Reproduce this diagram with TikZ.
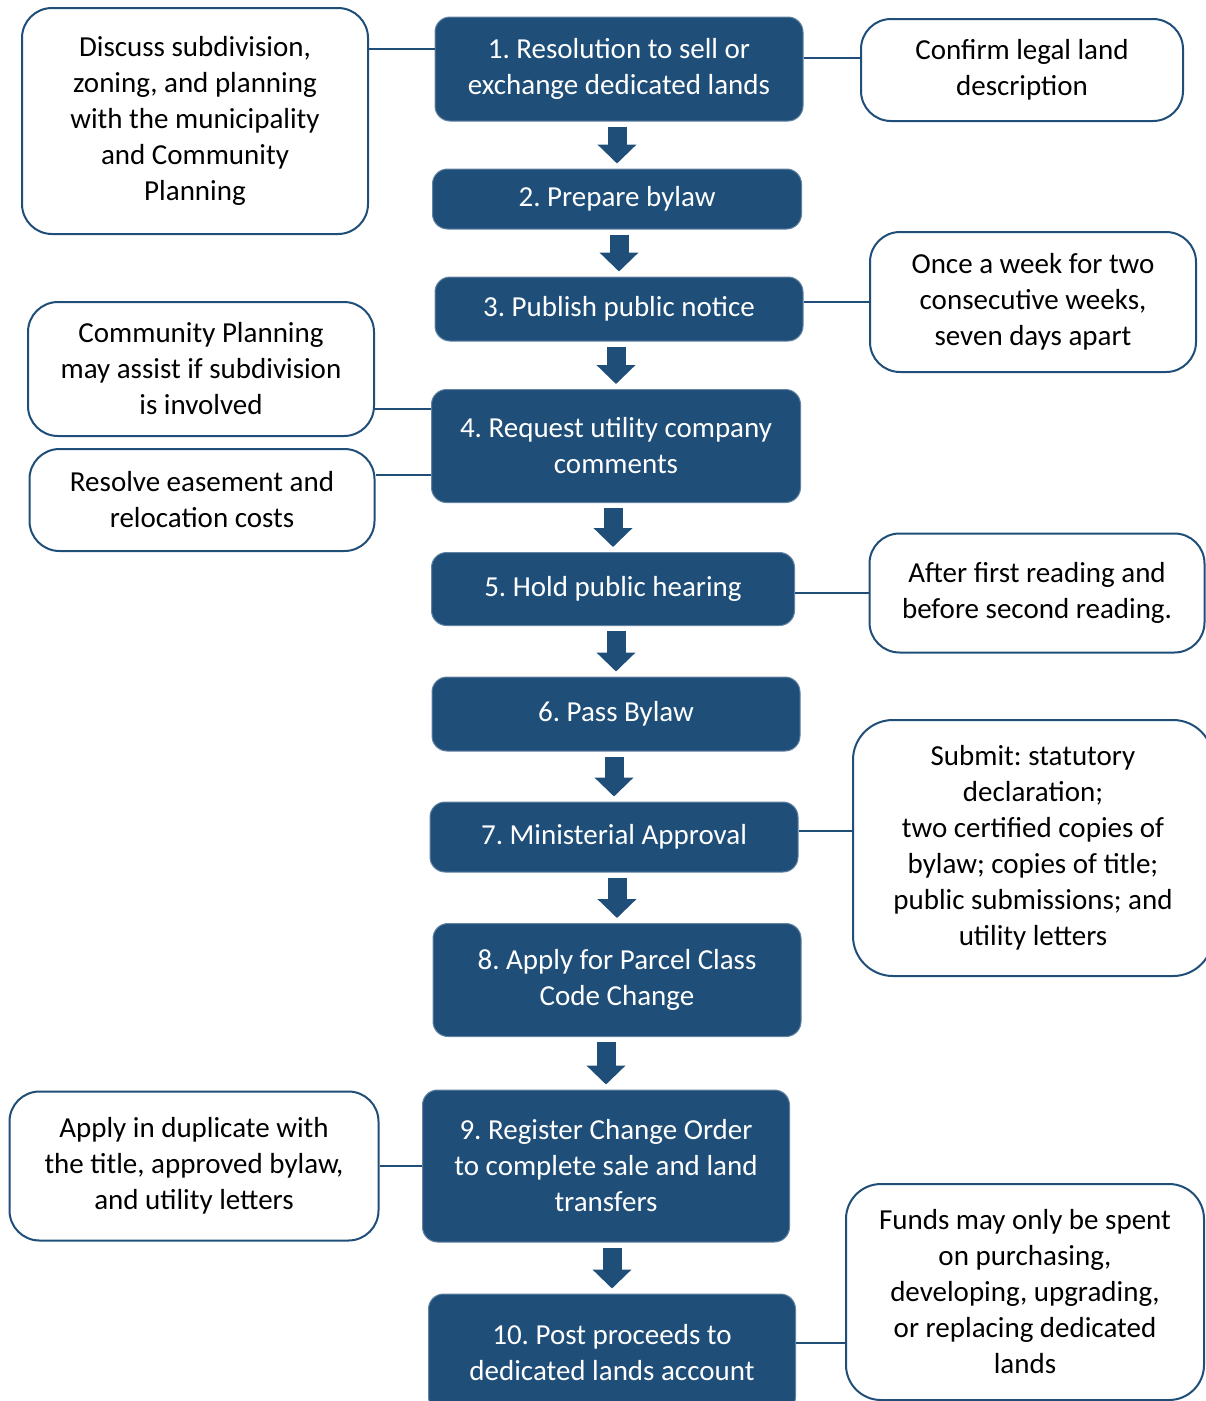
\documentclass[tikz,border=0pt]{standalone}
\usepackage{fontspec}
\setmainfont{Carlito}
\frenchspacing
\usetikzlibrary{arrows.meta}
\definecolor{navy}{HTML}{1F4E79}
\tikzstyle{sbox} = [rectangle, rounded corners=15pt, fill=navy, draw=navy!70!white, line width=1pt, text=white, align=center, inner sep=0pt, font=\fontsize{29}{36}\selectfont]
\tikzstyle{nbox} = [rectangle, rounded corners=30pt, fill=white, draw=navy, line width=2pt, align=center, inner sep=0pt, font=\fontsize{29}{36}\selectfont]
\tikzstyle{link} = [draw=navy, line width=2pt]
\tikzstyle{flow} = [draw=navy, line width=19pt, -{Triangle[width=38pt,length=19pt]}, shorten <=5pt, shorten >=5pt]

\begin{document}
\begin{tikzpicture}[x=1pt, y=-1pt]
			\useasboundingbox (0,0) rectangle (1206,1401);
			\clip (0,0) rectangle (1206,1401);

			% steps
			\node [sbox, minimum width=368pt, minimum height=104pt] (s1) at (619, 69) {1. Resolution to sell or\\exchange dedicated lands};
			\node [sbox, minimum width=369pt, minimum height=60pt] (s2) at (617, 199) {2. Prepare bylaw};
			\node [sbox, minimum width=368pt, minimum height=64pt] (s3) at (619, 309) {3. Publish public notice};
			\node [sbox, minimum width=369pt, minimum height=113pt] (s4) at (616, 446) {4. Request utility company\\comments};
			\node [sbox, minimum width=363pt, minimum height=73pt] (s5) at (613, 589) {5. Hold public hearing};
			\node [sbox, minimum width=368pt, minimum height=74pt] (s6) at (616, 714) {6. Pass Bylaw};
			\node [sbox, minimum width=368pt, minimum height=70pt] (s7) at (614, 837) {7. Ministerial Approval};
			\node [sbox, minimum width=368pt, minimum height=113pt] (s8) at (617, 980) {8. Apply for Parcel Class\\Code Change};
			\node [sbox, minimum width=367pt, minimum height=152pt] (s9) at (606, 1166) {9. Register Change Order\\to complete sale and land\\transfers};
			\node [sbox, minimum width=367pt, minimum height=118pt] (s10) at (612, 1353) {10. Post proceeds to\\dedicated lands account};

			% notes
			\node [nbox, minimum width=346pt, minimum height=226pt] (L1) at (195, 121) {Discuss subdivision,\\zoning, and planning\\with the municipality\\and Community\\Planning};
			\node [nbox, minimum width=322pt, minimum height=102pt] (R1) at (1022, 70) {Confirm legal land\\description};
			\node [nbox, minimum width=326pt, minimum height=140pt] (R3) at (1033, 302) {Once a week for two\\consecutive weeks,\\seven days apart};
			\node [nbox, minimum width=346pt, minimum height=134pt] (L4a) at (201, 369) {Community Planning\\may assist if subdivision\\is involved};
			\node [nbox, minimum width=345pt, minimum height=102pt] (L4b) at (202, 500) {Resolve easement and\\relocation costs};
			\node [nbox, minimum width=335pt, minimum height=119pt] (R5) at (1037, 593) {After first reading and\\before second reading.};
			\node [nbox, rounded corners=40pt, minimum width=360pt, minimum height=256pt] (R7) at (1033, 848) {Submit: statutory\\declaration;\\two certified copies of\\bylaw; copies of title;\\public submissions; and\\utility letters};
			\node [nbox, minimum width=369pt, minimum height=149pt] (L9) at (194, 1166) {Apply in duplicate with\\the title, approved bylaw,\\and utility letters};
			\node [nbox, rounded corners=35pt, minimum width=358pt, minimum height=216pt] (R10) at (1025, 1292) {Funds may only be spent\\on purchasing,\\developing, upgrading,\\or replacing dedicated\\lands};

			% links
			\coordinate (j1) at ([yshift=20pt]s1.west);
			\coordinate (j2) at ([yshift=11pt]s1.east);
			\coordinate (j4) at ([yshift=37pt]s4.west);
			\coordinate (j5) at ([yshift=-29pt]s4.west);
			\coordinate (j7) at ([yshift=6pt]s7.east);
			\coordinate (j10) at ([yshift=10pt]s10.east);
			\path [link] (j1) -- (j1 -| L1.east);
			\path [link] (j2) -- (j2 -| R1.west);
			\path [link] (R3.west) -- (R3.west -| s3.east);
			\path [link] (j4) -- (j4 -| L4a.east);
			\path [link] (j5) -- (j5 -| L4b.east);
			\path [link] (R5.west) -- (R5.west -| s5.east);
			\path [link] (j7) -- (j7 -| R7.west);
			\path [link] (L9.east) -- (L9.east -| s9.west);
			\path [link] (j10) -- (j10 -| R10.west);

			% flow
			\path [flow] (s1.south -| s2.north) -- (s2.north);
			\path [flow] (s2.south -| s3.north) -- (s3.north);
			\path [flow] (s3.south -| s4.north) -- (s4.north);
			\path [flow] (s4.south -| s5.north) -- (s5.north);
			\path [flow] (s5.south -| s6.north) -- (s6.north);
			\path [flow] (s6.south -| s7.north) -- (s7.north);
			\path [flow] (s7.south -| s8.north) -- (s8.north);
			\path [flow] (s8.south -| s9.north) -- (s9.north);
			\path [flow] (s9.south -| s10.north) -- (s10.north);
		\end{tikzpicture}
\end{document}
